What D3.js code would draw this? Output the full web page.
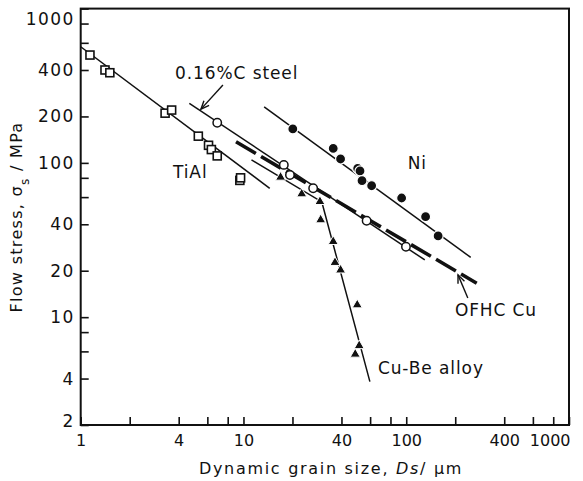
<!DOCTYPE html>
<html>
<head>
<meta charset="utf-8">
<script src="https://cdn.jsdelivr.net/npm/d3@7/dist/d3.min.js"></script>
<style>
  html, body { margin: 0; padding: 0; background: #fff; }
  svg { display: block; }
  text { font-family: "DejaVu Sans", sans-serif; fill: #111; }
</style>
</head>
<body>
<svg id="chart" width="583" height="481"></svg>
<script>
// Grain size (µm) and flow stress (MPa) for each material
const tialD      = [1.14, 1.41, 1.51, 3.3, 3.62, 5.28, 6.1, 6.35, 6.9, 9.5, 9.6];
const tialS      = [500, 400, 384, 210, 220, 149, 130, 122, 111, 77, 80];
const steelD     = [6.9, 17.7, 19.3, 26.8, 57.1, 99.6];
const steelS     = [182, 97, 83.5, 68.5, 42.2, 28.6];
const niD        = [20.1, 35.6, 39.5, 50.3, 52, 53.5, 61.3, 93.7, 131.5, 157];
const niS        = [166, 124, 106, 92, 88.7, 76.7, 71.1, 59.2, 44.8, 33.6];
const cubeD      = [16.9, 22.8, 29.5, 29.8, 35.6, 36.5, 39.5, 50.0, 51.4, 48.6];
const cubeS      = [80.7, 62.9, 56.1, 42.7, 30.9, 22.6, 20.2, 12.0, 6.53, 5.75];

// Fitted lines (end points, and the knee of the Cu-Be curve)
const tialFitD   = [1, 14.5];
const tialFitS   = [566, 68.4];
const steelFitD  = [4.65, 130];
const steelFitS  = [243, 23.5];
const niFitD     = [13.4, 249];
const niFitS     = [231, 24.4];
const cuFitD     = [9.0, 271];
const cuFitS     = [137, 16.6];
const cubeFitD   = [11.2, 30.3, 59.8];
const cubeFitS   = [104.5, 55.8, 3.82];

// Axis ticks
const xTicks     = [1, 2, 4, 6, 8, 10, 20, 40, 60, 80, 100, 200, 400, 600, 800, 1000];
const xLabels    = [1, 4, 10, 40, 100, 400, 1000];
const yTicks     = [2, 4, 6, 8, 10, 20, 40, 60, 80, 100, 200, 400, 600, 800, 1000];
const yLabels    = [2, 4, 10, 20, 40, 100, 200, 400, 1000];

const svg = d3.select("#chart");
const x = d3.scaleLog().domain([1, 1000]).range([80.7, 569]);
const y = d3.scaleLog().domain([2, 1000]).range([425, 8.6]);

const zip = (a, b) => a.map((v, i) => [v, b[i]]);
const line = d3.line().x(d => x(d[0])).y(d => y(d[1]));

// Frame
svg.append("rect")
  .attr("x", x(1)).attr("y", y(1000))
  .attr("width", x(1000) - x(1)).attr("height", y(2) - y(1000))
  .attr("fill", "none").attr("stroke", "#111").attr("stroke-width", 2);

// Axes with inward ticks
const xAxis = svg.append("g")
  .attr("transform", `translate(0,${y(2)})`)
  .call(d3.axisBottom(x).tickValues(xTicks).tickSizeInner(-8).tickSizeOuter(0).tickPadding(10)
    .tickFormat(d => xLabels.includes(d) ? String(d) : ""));
xAxis.select(".domain").remove();
xAxis.selectAll(".tick line").attr("stroke", "#111").attr("stroke-width", 1.6);
xAxis.selectAll(".tick text").style("font-size", "16px")
  .filter(d => d === 1000).attr("text-anchor", "end").attr("dx", "1px");

const yAxis = svg.append("g")
  .attr("transform", `translate(${x(1)},0)`)
  .call(d3.axisLeft(y).tickValues(yTicks).tickSizeInner(-8).tickSizeOuter(0).tickPadding(6)
    .tickFormat(d => yLabels.includes(d) ? String(d) : ""));
yAxis.select(".domain").remove();
yAxis.selectAll(".tick line").attr("stroke", "#111").attr("stroke-width", 1.6);
yAxis.selectAll(".tick text").style("font-size", "17px").style("letter-spacing", "1.4px");
yAxis.selectAll(".tick text").filter(d => d === 1000).attr("dy", "0.95em");
yAxis.selectAll(".tick text").filter(d => d === 2).attr("dy", "0.1em");

// Axis titles
const xt = svg.append("text")
  .attr("x", 331).attr("y", 474).attr("text-anchor", "middle")
  .style("font-size", "16px").style("letter-spacing", "1.7px");
xt.append("tspan").text("Dynamic grain size, ");
xt.append("tspan").attr("font-style", "italic").text("Ds");
xt.append("tspan").text("/ μm");

const yt = svg.append("text")
  .attr("transform", "translate(22,217) rotate(-90)").attr("text-anchor", "middle")
  .style("font-size", "16px").style("letter-spacing", "1.3px");
yt.append("tspan").text("Flow stress,  σ");
yt.append("tspan").attr("baseline-shift", "sub").style("font-size", "12px").text("s");
yt.append("tspan").text(" / MPa");

// Fit lines
const thin = (d, s) => svg.append("path").datum(zip(d, s)).attr("d", line)
  .attr("fill", "none").attr("stroke", "#111").attr("stroke-width", 1.5);
thin(tialFitD, tialFitS);
thin(steelFitD, steelFitS);
thin(niFitD, niFitS);
thin(cubeFitD, cubeFitS);
svg.append("path").datum(zip(cuFitD, cuFitS)).attr("d", line)
  .attr("fill", "none").attr("stroke", "#111").attr("stroke-width", 3.6)
  .attr("stroke-dasharray", "23 6");

// Markers (white halo breaks the lines around each symbol)
const sq = 8;
svg.append("g").selectAll("rect").data(zip(tialD, tialS)).join("rect")
  .attr("x", d => x(d[0]) - sq / 2).attr("y", d => y(d[1]) - sq / 2)
  .attr("width", sq).attr("height", sq)
  .attr("fill", "#fff").attr("stroke", "#111").attr("stroke-width", 1.6);

svg.append("g").selectAll("circle").data(zip(steelD, steelS)).join("circle")
  .attr("cx", d => x(d[0])).attr("cy", d => y(d[1])).attr("r", 4.2)
  .attr("fill", "#fff").attr("stroke", "#111").attr("stroke-width", 1.5);

svg.append("g").selectAll("circle").data(zip(niD, niS)).join("circle")
  .attr("cx", d => x(d[0])).attr("cy", d => y(d[1])).attr("r", 5)
  .attr("fill", "#111").attr("stroke", "#fff").attr("stroke-width", 1.2);

const tri = d3.symbol().type(d3.symbolTriangle).size(44);
svg.append("g").selectAll("path").data(zip(cubeD, cubeS)).join("path")
  .attr("d", tri).attr("transform", d => `translate(${x(d[0])},${y(d[1])})`)
  .attr("fill", "#111").attr("stroke", "#fff").attr("stroke-width", 1);

// Labels and pointer arrows
const label = (t, d, s) => svg.append("text").attr("x", x(d)).attr("y", y(s)).attr("dy", "0.36em")
  .style("font-size", "17px").style("letter-spacing", "0.9px").text(t);
label("0.16%C steel", 3.8, 381);
label("TiAl", 3.69, 87.3);
label("Ni", 102, 100);
label("OFHC Cu", 199, 11.1);
label("Cu-Be alloy", 67, 4.69);

function arrow(d0, s0, d1, s1) {
  const x0 = x(d0), y0 = y(s0), x1 = x(d1), y1 = y(s1);
  const a = Math.atan2(y1 - y0, x1 - x0), h = 9, w = 0.4;
  svg.append("line").attr("x1", x0).attr("y1", y0).attr("x2", x1).attr("y2", y1)
    .attr("stroke", "#111").attr("stroke-width", 1.4);
  svg.append("path")
    .attr("d", `M${x1 - h * Math.cos(a - w)},${y1 - h * Math.sin(a - w)}L${x1},${y1}L${x1 - h * Math.cos(a + w)},${y1 - h * Math.sin(a + w)}`)
    .attr("fill", "none").attr("stroke", "#111").attr("stroke-width", 1.4);
}
arrow(7.48, 320, 5.48, 223);
arrow(239, 13.3, 208, 18.8);
</script>
</body>
</html>
